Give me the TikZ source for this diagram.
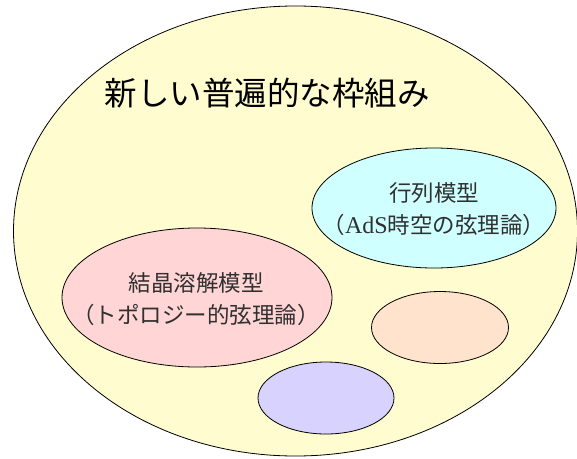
\documentclass[tikz,border=0pt]{standalone}
\usepackage{fontspec}
\usetikzlibrary{shapes.geometric}
\setmainfont{Liberation Serif}
\newfontfamily\cjk{Noto Sans CJK JP}
\newfontfamily\latinserif{Liberation Serif}
\definecolor{bigyellow}{HTML}{FFFCD0}
\definecolor{cyanfill}{HTML}{CFFFFF}
\definecolor{pinkfill}{HTML}{FFD5D5}
\definecolor{peachfill}{HTML}{FFE3CC}
\definecolor{purplefill}{HTML}{D8D2FF}
\definecolor{txtgray}{HTML}{303030}
\begin{document}
\begin{tikzpicture}[x=1pt,y=-1pt,
  blob/.style={draw=black, line width=0.8pt, ellipse, inner sep=0pt},
  lbl/.style={align=center, text=txtgray, font=\cjk\fontsize{22.5}{32}\selectfont},
  ttl/.style={text=black, font=\cjk\fontsize{32.5}{40}\selectfont}]
\useasboundingbox (0,0) rectangle (577,458);
\clip (0,0) rectangle (577,458);
\node[blob, fill=bigyellow, minimum width=564pt, minimum height=450pt] (frame) at (295.5,231) {};
\node[ttl] (title) at (267,93) {新しい普遍的な枠組み};
\node[blob, fill=cyanfill, minimum width=244pt, minimum height=120pt] (matrix) at (434,208) {};
\node[lbl] (matrixtxt) at (434,209) {行列模型\\（{\latinserif\fontsize{24}{32}\selectfont AdS}時空の弦理論）};
\node[blob, fill=pinkfill, minimum width=270pt, minimum height=139pt] (crystal) at (197,297.5) {};
\node[lbl] (crystaltxt) at (196,299) {結晶溶解模型\\（トポロジー的弦理論）};
\node[blob, fill=peachfill, minimum width=137pt, minimum height=72pt] (peach) at (440,327.5) {};
\node[blob, fill=purplefill, minimum width=136pt, minimum height=72pt] (purple) at (326,398) {};
\end{tikzpicture}
\end{document}
